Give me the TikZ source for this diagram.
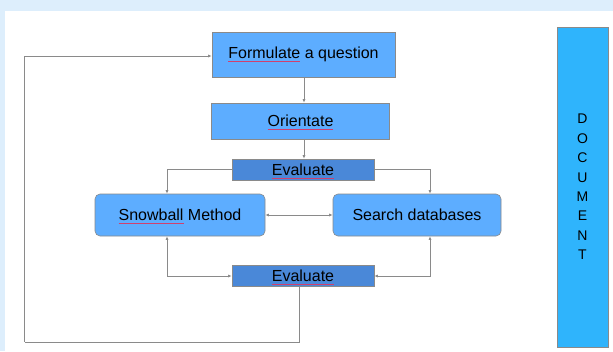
\documentclass[tikz,border=0pt]{standalone}
\usepackage{fontspec}
\setmainfont{Liberation Sans}
\usetikzlibrary{arrows.meta}
\definecolor{pagebg}{HTML}{DDEEFC}
\definecolor{boxblue}{HTML}{5DADFF}
\definecolor{evalblue}{HTML}{4A88D8}
\definecolor{docblue}{HTML}{2FB4FC}
\definecolor{edgegray}{HTML}{8A8A8A}
\definecolor{spellred}{HTML}{D0406E}
\begin{document}
\begin{tikzpicture}[x=1pt,y=-1pt,
    stepbox/.style={draw=edgegray,line width=0.6pt,fill=boxblue,font=\fontsize{16}{19}\selectfont,inner sep=0pt},
    evalbox/.style={stepbox,fill=evalblue},
    roundbox/.style={stepbox,rounded corners=5pt},
    arr/.style={draw=edgegray,line width=0.8pt,-{Latex[length=3.5pt,width=3pt]}},
    arrboth/.style={arr,{Latex[length=3.5pt,width=3pt]}-{Latex[length=3.5pt,width=3pt]}},
    line/.style={draw=edgegray,line width=0.8pt},
    spell/.style={draw=spellred,line width=0.9pt}]
    \fill[pagebg] (0,0) rectangle (613,351);
    \fill[white] (5,11) rectangle (613,351);
    \useasboundingbox (0,0) rectangle (613,351);

    \node[stepbox,minimum width=183pt,minimum height=45pt] (formulate) at (303.5,54.5) {Formulate a question};
    \node[stepbox,minimum width=178pt,minimum height=36pt] (orientate) at (300.5,121) {Orientate};
    \node[evalbox,minimum width=142pt,minimum height=21pt] (evaltop) at (303,169.5) {Evaluate};

    \node[roundbox,minimum width=170pt,minimum height=42pt] (snowball) at (180,215) {Snowball Method};
    \node[roundbox,minimum width=168pt,minimum height=42pt] (search) at (417,215) {Search databases};

    \node[evalbox,minimum width=142pt,minimum height=21pt] (evalbot) at (303,276) {Evaluate};

    \node[stepbox,fill=docblue,minimum width=51pt,minimum height=320pt,font=\fontsize{14}{19.4}\selectfont,align=center] (document) at (582.5,187)
        {D\\O\\C\\U\\M\\E\\N\\T};

    % spell-check marks
    \draw[spell] ([xshift=-75.1pt,yshift=-3pt]formulate.base) -- ++(72,0);
    \draw[spell] ([xshift=-32.9pt,yshift=-3pt]orientate.base) -- ++(65.8,0);
    \draw[spell] ([xshift=-31.1pt,yshift=-3pt]evaltop.base) -- ++(62.3,0);
    \draw[spell] ([xshift=-61.4pt,yshift=-3pt]snowball.base) -- ++(64.9,0);
    \draw[spell] ([xshift=-31.1pt,yshift=-3pt]evalbot.base) -- ++(62.3,0);

    \coordinate (loopcorner) at (24.5,342);

    \draw[arr] (formulate.south -| 304,0) -- (orientate.north -| 304,0);
    \draw[arr] (orientate.south -| 304,0) -- (evaltop.north -| 304,0);
    \draw[arr] (evaltop.west) -| ([xshift=-13pt]snowball.north);
    \draw[arr] (evaltop.east) -| ([xshift=13pt]search.north);
    \draw[arrboth] (snowball) -- (search);
    \draw[arrboth] ([xshift=-13pt]snowball.south) |- (evalbot.west);
    \draw[arrboth] ([xshift=13pt]search.south) |- (evalbot.east);
    \draw[line] (evalbot.south -| 299,0) |- (loopcorner);
    \draw[arr] (loopcorner) |- ([yshift=-1.5pt]formulate.west);
\end{tikzpicture}
\end{document}
